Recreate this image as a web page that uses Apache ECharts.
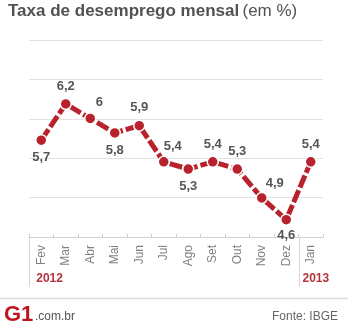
<!DOCTYPE html>
<html><head><meta charset="utf-8">
<script src="https://cdn.jsdelivr.net/npm/echarts@6/dist/echarts.min.js"></script>
<style>html,body{margin:0;padding:0;background:#fff}#c{width:350px;height:330px}</style>
</head><body><div id="c"></div>
<script>
var months = ['Fev','Mar','Abr','Mai','Jun','Jul','Ago','Set','Out','Nov','Dez','Jan'];
var rates = [5.7, 6.2, 6, 5.8, 5.9, 5.4, 5.3, 5.4, 5.3, 4.9, 4.6, 5.4];
var years = ['2012', '2013'];
var labelSide = ['bottom','top','right','bottom','top','right','bottom','top','top','right','bottom','top'];

var RED = '#b8222c';
var chart = echarts.init(document.getElementById('c'), null, {renderer:'canvas'});

function fmt(v){ return String(v).replace('.', ','); }

var seriesData = rates.map(function(v, i){
  var side = labelSide[i];
  var lab = {position: side === 'right' ? 'top' : side, distance: 5};
  if (side === 'right') { lab.offset = [9, 2]; }
  return {value: v, label: lab};
});
seriesData[9].label.offset = [13, 3];
seriesData[10].label.distance = 3;

chart.setOption({
  animation: false,
  grid: {left: 29, right: 27, top: 40, bottom: 93},
  xAxis: {
    type: 'category', data: months, boundaryGap: true,
    axisLine: {lineStyle: {color: '#cfcfcf', width: 1}},
    axisTick: {show: true, inside: true, length: 3, lineStyle: {color: '#cfcfcf'}},
    axisLabel: {rotate: 90, margin: 8, color: '#808080', fontSize: 12, fontFamily: 'Liberation Sans'}
  },
  yAxis: {
    type: 'value', min: 4.36, max: 7.085, interval: 0.545,
    axisLabel: {show: false}, axisLine: {show: false}, axisTick: {show: false},
    splitLine: {lineStyle: {color: '#e2e2e2', width: 1}}
  },
  series: [{
    type: 'line', data: seriesData,
    lineStyle: {color: RED, width: 5, type: [13, 3]},
    itemStyle: {color: RED, borderColor: '#fff', borderWidth: 1.5},
    symbol: 'circle', symbolSize: 11, showAllSymbol: true,
    label: {show: true, formatter: function(p){ return fmt(p.value); },
      color: '#555', fontSize: 13, fontWeight: 'bold', fontFamily: 'Liberation Sans'}
  }]
});

function drawExtras(){
  var gridRect = chart.getModel().getComponent('grid', 0).coordinateSystem.getRect();
  var left = gridRect.x, bottom = gridRect.y + gridRect.height;
  var dez = chart.convertToPixel({xAxisIndex: 0}, months.length - 2);
  var jan = chart.convertToPixel({xAxisIndex: 0}, months.length - 1);
  var sepX = Math.round((dez + jan) / 2) + 0.5;
  var leftX = Math.round(left) + 0.5;
  var fev = chart.convertToPixel({xAxisIndex: 0}, 0);
  chart.setOption({graphic: [
    {type: 'text', left: 8, top: 3, style: {
      rich: {b: {fontWeight: 'bold', fontSize: 17, fill: '#525252', fontFamily: 'Liberation Sans'},
             n: {fontWeight: 'normal', fontSize: 17, fill: '#525252', fontFamily: 'Liberation Sans'}},
      text: '{b|Taxa de desemprego mensal} {n|(em %)}'}},
    {type: 'line', shape: {x1: leftX, y1: bottom, x2: leftX, y2: 287}, style: {stroke: '#d4d4d4', lineWidth: 1}},
    {type: 'line', shape: {x1: sepX, y1: bottom, x2: sepX, y2: 287}, style: {stroke: '#d4d4d4', lineWidth: 1}},
    {type: 'text', x: fev - 5, y: 273, style: {text: years[0], fill: '#b3333c', fontWeight: 'bold', fontSize: 12, fontFamily: 'Liberation Sans'}},
    {type: 'text', x: sepX + 3, y: 273, style: {text: years[1], fill: '#b3333c', fontWeight: 'bold', fontSize: 12, fontFamily: 'Liberation Sans'}},
    {type: 'line', shape: {x1: 0, y1: 298.5, x2: 348, y2: 298.5}, style: {stroke: '#dcdcdc', lineWidth: 1.5}},
    {type: 'text', x: 4, y: 304, style: {text: 'G1', fill: '#c0141c', fontWeight: 'bold', fontSize: 22, fontFamily: 'Liberation Sans'}},
    {type: 'text', x: 35, y: 311, style: {text: '.com.br', fill: '#555', fontSize: 12, fontFamily: 'Liberation Sans'}},
    {type: 'text', right: 12, y: 311, style: {text: 'Fonte: IBGE', fill: '#666', fontSize: 12, fontFamily: 'Liberation Sans'}}
  ]});
}
drawExtras();
</script></body></html>
